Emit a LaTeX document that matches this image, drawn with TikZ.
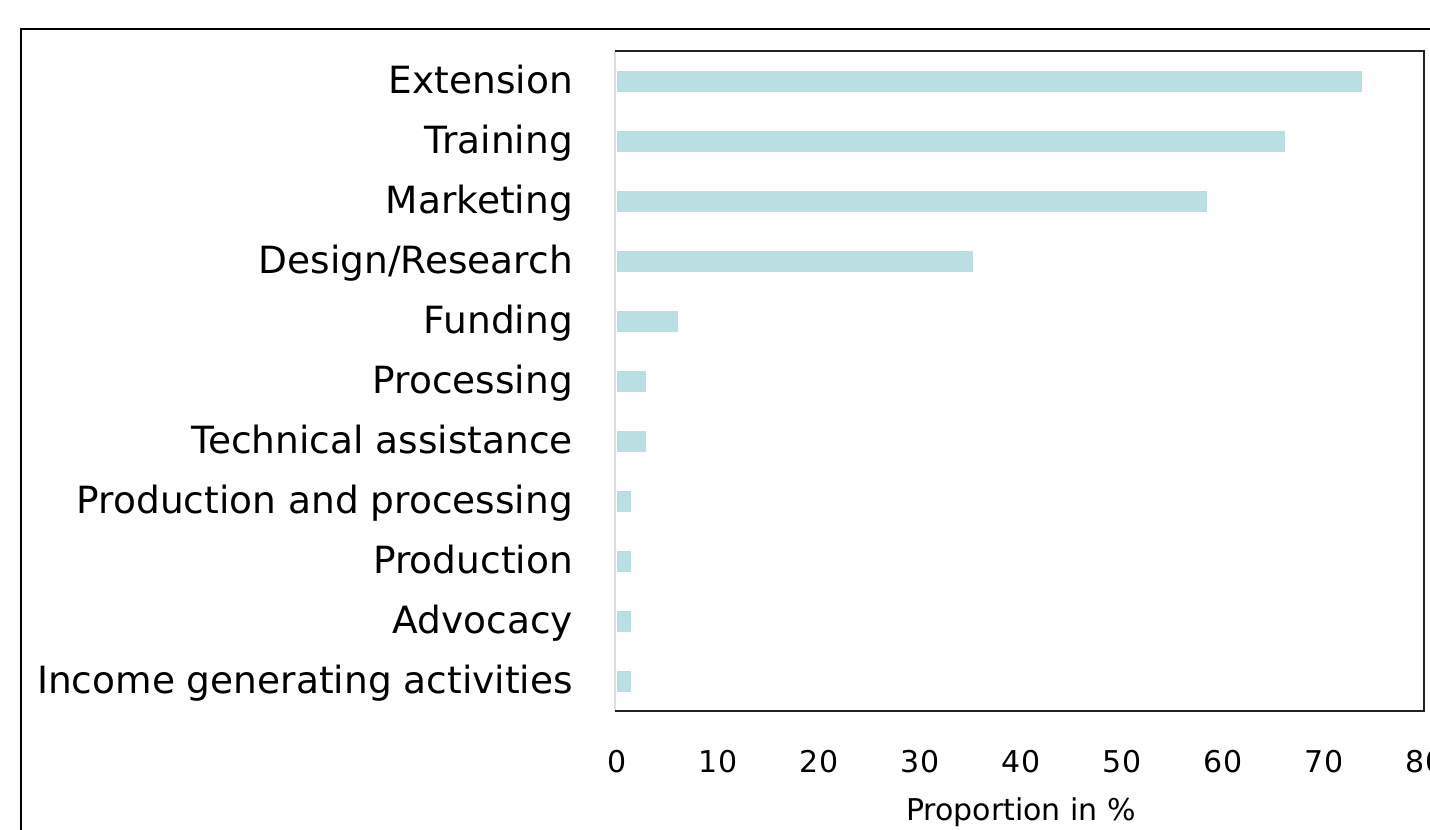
\documentclass[tikz,border=0pt]{standalone}
\usepackage{fontspec}
\setmainfont{DejaVu Sans}
\definecolor{barc}{HTML}{B9DFE2}
\definecolor{axisc}{HTML}{222222}
\definecolor{leftc}{HTML}{DDDDDD}
\begin{document}
\begin{tikzpicture}[x=1pt,y=-1pt,
  lab/.style={anchor=base east,inner sep=0pt,font=\fontsize{37.5}{40}\selectfont},
  tick/.style={anchor=base,inner sep=0pt,font=\fontsize{30}{34}\selectfont},
  bar/.style={fill=barc,draw=none}]
\useasboundingbox (0,0) rectangle (1430,830);
\begin{scope}
\clip (0,0) rectangle (1430,830);
\draw[line width=2.5pt] (21,29) rectangle (1450,850);
\end{scope}
% bars
\foreach \v [count=\i from 0] in {74,66.3,58.6,35.4,6.2,3.1,3.1,1.55,1.55,1.55,1.55}{
  \fill[barc] (617,{71+60*\i}) rectangle ({615+10.1*\v},{92+60*\i});
}
% plot frame
\draw[leftc,line width=2pt] (615,51) -- (615,711);
\draw[axisc,line width=2.2pt] (615,711) -- (1424,711) -- (1424,51) -- (615,51);
% labels
\foreach \t [count=\i from 0] in {Extension,Training,Marketing,Design/Research,Funding,Processing,Technical assistance,Production and processing,Production,Advocacy,Income generating activities}{
  \node[lab] (l\i) at (573,{93+60*\i}) {\t};
}
\foreach \k in {0,10,...,80}{
  \node[tick] (t\k) at ({617+10.1*\k},772) {\k};
}
\node[tick] (xt) at (1021,820) {Proportion in \%};
\end{tikzpicture}
\end{document}
